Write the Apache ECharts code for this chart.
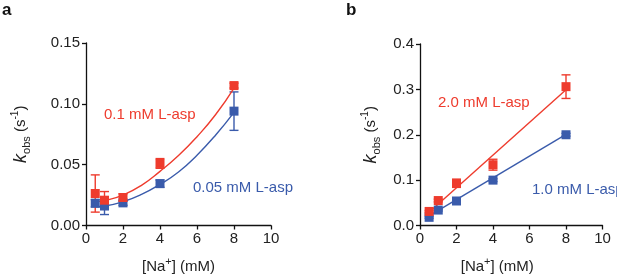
<!DOCTYPE html>
<html>
<head>
<meta charset="utf-8">
<script src="https://cdn.jsdelivr.net/npm/echarts@6/dist/echarts.min.js"></script>
<style>
  html, body { margin: 0; padding: 0; background: #fff; }
  #chart { width: 617px; height: 279px; }
</style>
</head>
<body>
<div id="chart"></div>
<script>
// measured [Na+] concentrations (mM)
const naConc = [0.5, 1, 2, 4, 8];

// panel a: 0.1 mM (red) and 0.05 mM (blue) L-asp
const aRed = [0.0263, 0.0208, 0.0230, 0.0510, 0.1150];
const aRedErr = [0.0153, 0.0071, 0.0030, 0.0040, 0.0020];
const aBlue = [0.0183, 0.0160, 0.0186, 0.0344, 0.0940];
const aBlueErr = [0.0030, 0.0070, 0.0020, 0.0030, 0.0158];
const aFitX = [0.5, 1, 2, 3, 4, 5, 6, 7, 8];
const aRedFit = [0.0195, 0.0205, 0.0250, 0.0330, 0.0445, 0.0575, 0.0730, 0.0910, 0.1130];
const aBlueFit = [0.0155, 0.0160, 0.0195, 0.0255, 0.0338, 0.0440, 0.0578, 0.0742, 0.0930];

// panel b: 2.0 mM (red) and 1.0 mM (blue) L-asp
const bRed = [0.031, 0.055, 0.093, 0.134, 0.306];
const bRedErr = [0.002, 0.003, 0.009, 0.012, 0.026];
const bBlue = [0.018, 0.034, 0.054, 0.100, 0.200];
const bBlueErr = [0.002, 0.002, 0.002, 0.003, 0.003];
const bFitX = [0.5, 8];
const bRedFit = [0.029, 0.299];
const bBlueFit = [0.021, 0.201];

const aYTicks = ['0.00', '0.05', '0.10', '0.15'];
const bYTicks = ['0.0', '0.1', '0.2', '0.3', '0.4'];

const RED = '#ee3b2d';
const BLUE = '#3a5bab';
const FONT = 'Liberation Sans, Arial, sans-serif';

const chart = echarts.init(document.getElementById('chart'));

function pairs(xs, ys) {
  return xs.map((x, i) => [x, ys[i]]);
}

function xAxisFor(gridIndex, pad) {
  return {
    gridIndex: gridIndex,
    type: 'value',
    min: 0, max: 10, interval: 2,
    name: '{n|[Na}{sup|+}{n|] (mM)}',
    nameLocation: 'middle',
    nameGap: 31,
    nameTextStyle: {
      padding: pad,
      rich: {
        n: { fontSize: 15, fontFamily: FONT, color: '#222', lineHeight: 20, verticalAlign: 'middle' },
        sup: { fontSize: 11, fontFamily: FONT, color: '#222', lineHeight: 11, verticalAlign: 'top' }
      }
    },
    axisLine: { lineStyle: { color: '#111', width: 1.3 } },
    axisTick: { length: 4, lineStyle: { color: '#111', width: 1.3 } },
    axisLabel: { color: '#222', fontSize: 15, fontFamily: FONT, margin: 6 },
    splitLine: { show: false }
  };
}

function yAxisFor(gridIndex, max, interval, labels, gap) {
  return {
    gridIndex: gridIndex,
    type: 'value',
    min: 0, max: max, interval: interval,
    name: '{k|k}{sub|obs}{n| (s}{sup|-1}{n|)}',
    nameLocation: 'middle',
    nameRotate: 90,
    nameGap: gap,
    nameTextStyle: {
      rich: {
        k: { fontSize: 18, fontStyle: 'italic', fontFamily: FONT, color: '#222', lineHeight: 22, verticalAlign: 'middle' },
        sub: { fontSize: 11, fontFamily: FONT, color: '#222', lineHeight: 11, verticalAlign: 'bottom' },
        n: { fontSize: 15, fontFamily: FONT, color: '#222', lineHeight: 22, verticalAlign: 'middle' },
        sup: { fontSize: 10, fontFamily: FONT, color: '#222', lineHeight: 10, verticalAlign: 'top' }
      }
    },
    axisLine: { show: true, lineStyle: { color: '#111', width: 1.3 } },
    axisTick: { show: true, length: 4, lineStyle: { color: '#111', width: 1.3 } },
    axisLabel: {
      color: '#222', fontSize: 15, fontFamily: FONT, margin: 6,
      formatter: (v) => labels[Math.round(v / interval)]
    },
    splitLine: { show: false }
  };
}

function errorBars(axisIndex, ys, errs, color) {
  return {
    type: 'custom',
    xAxisIndex: axisIndex,
    yAxisIndex: axisIndex,
    z: 2,
    data: naConc.map((x, i) => [x, ys[i] - errs[i], ys[i] + errs[i]]),
    renderItem: function (params, api) {
      const lo = api.coord([api.value(0), api.value(1)]);
      const hi = api.coord([api.value(0), api.value(2)]);
      const w = 4.5;
      const st = { stroke: color, lineWidth: 1.4 };
      return {
        type: 'group',
        children: [
          { type: 'line', shape: { x1: lo[0], y1: lo[1], x2: hi[0], y2: hi[1] }, style: st },
          { type: 'line', shape: { x1: hi[0] - w, y1: hi[1], x2: hi[0] + w, y2: hi[1] }, style: st },
          { type: 'line', shape: { x1: lo[0] - w, y1: lo[1], x2: lo[0] + w, y2: lo[1] }, style: st }
        ]
      };
    }
  };
}

function points(axisIndex, ys, color) {
  return {
    type: 'scatter',
    xAxisIndex: axisIndex,
    yAxisIndex: axisIndex,
    symbol: 'rect',
    symbolSize: 9,
    z: 4,
    itemStyle: { color: color, opacity: 1 },
    data: pairs(naConc, ys)
  };
}

function fit(axisIndex, xs, ys, color, smooth) {
  return {
    type: 'line',
    xAxisIndex: axisIndex,
    yAxisIndex: axisIndex,
    showSymbol: false,
    smooth: smooth,
    z: 3,
    lineStyle: { color: color, width: 1.4 },
    data: pairs(xs, ys)
  };
}

const option = {
  animation: false,
  backgroundColor: '#fff',
  grid: [
    { left: 86, top: 43, width: 185, height: 184.5 },
    { left: 420, top: 44, width: 182.5, height: 186 }
  ],
  xAxis: [xAxisFor(0, [0, 0, 0, 0]), xAxisFor(1, [0, 28, 0, 0])],
  yAxis: [
    yAxisFor(0, 0.15, 0.05, aYTicks, 54),
    yAxisFor(1, 0.4, 0.1, bYTicks, 38)
  ],
  graphic: [
    { type: 'text', left: 2, top: 2, style: { text: 'a', fontSize: 17, fontWeight: 'bold', fontFamily: FONT, fill: '#111' } },
    { type: 'text', left: 346, top: 2, style: { text: 'b', fontSize: 17, fontWeight: 'bold', fontFamily: FONT, fill: '#111' } },
    { type: 'text', left: 104, top: 107, style: { text: '0.1 mM L-asp', fontSize: 15, fontFamily: FONT, fill: RED } },
    { type: 'text', left: 193, top: 180, style: { text: '0.05 mM L-asp', fontSize: 15, fontFamily: FONT, fill: BLUE } },
    { type: 'text', left: 438, top: 95, style: { text: '2.0 mM L-asp', fontSize: 15, fontFamily: FONT, fill: RED } },
    { type: 'text', left: 532, top: 182, style: { text: '1.0 mM L-asp', fontSize: 15, fontFamily: FONT, fill: BLUE } }
  ],
  series: [
    fit(0, aFitX, aRedFit, RED, 0.5),
    fit(0, aFitX, aBlueFit, BLUE, 0.5),
    errorBars(0, aBlue, aBlueErr, BLUE),
    errorBars(0, aRed, aRedErr, RED),
    points(0, aBlue, BLUE),
    points(0, aRed, RED),
    fit(1, bFitX, bRedFit, RED, false),
    fit(1, bFitX, bBlueFit, BLUE, false),
    errorBars(1, bBlue, bBlueErr, BLUE),
    errorBars(1, bRed, bRedErr, RED),
    points(1, bBlue, BLUE),
    points(1, bRed, RED)
  ]
};

chart.setOption(option);
</script>
</body>
</html>
